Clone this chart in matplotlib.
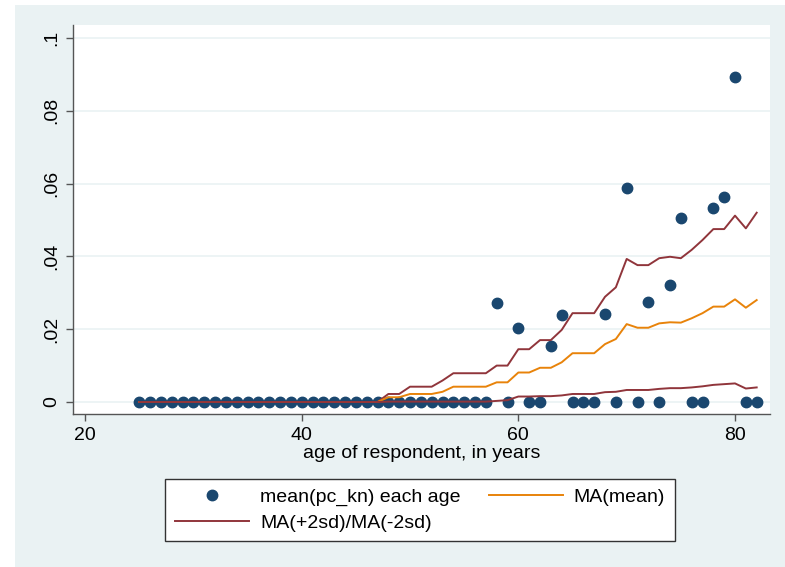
import numpy as np
import matplotlib.pyplot as plt
from matplotlib.patches import Rectangle

plt.rcParams['font.family'] = ['Liberation Sans', 'DejaVu Sans']

# datos
ages = np.arange(25, 83)
nonzero = {58: 0.0273, 60: 0.0204, 63: 0.0155, 64: 0.0239, 68: 0.0241,
           70: 0.0589, 72: 0.0276, 74: 0.0321, 75: 0.0505, 78: 0.0532,
           79: 0.0562, 80: 0.0893}
mean_pc = [nonzero.get(a, 0.0) for a in ages]

# medias moviles, edades 47..82 (antes todo cero)
ma_ages = np.arange(47, 83)
ma_up = [0.0, 0.0022, 0.0022, 0.0042, 0.0042, 0.0042, 0.0059, 0.0079, 0.0079,
         0.0079, 0.0079, 0.0100, 0.0100, 0.0145, 0.0145, 0.0170, 0.0170, 0.0198,
         0.0244, 0.0244, 0.0244, 0.0289, 0.0315, 0.0393, 0.0376, 0.0376, 0.0395,
         0.0399, 0.0395, 0.0418, 0.0445, 0.0475, 0.0475, 0.0512, 0.0477, 0.0520]
ma_mean = [0.0, 0.0013, 0.0013, 0.0022, 0.0022, 0.0022, 0.0028, 0.0042, 0.0042,
           0.0042, 0.0042, 0.0054, 0.0054, 0.0081, 0.0081, 0.0094, 0.0094, 0.0109,
           0.0134, 0.0134, 0.0134, 0.0159, 0.0173, 0.0214, 0.0204, 0.0204, 0.0216,
           0.0219, 0.0218, 0.0230, 0.0244, 0.0262, 0.0262, 0.0282, 0.0259, 0.0280]
ma_low = [0.0, 0.0001, 0.0001, 0.0001, 0.0001, 0.0001, 0.0001, 0.0001, 0.0001,
          0.0001, 0.0001, 0.0003, 0.0005, 0.0015, 0.0015, 0.0016, 0.0016, 0.0018,
          0.0022, 0.0022, 0.0022, 0.0027, 0.0028, 0.0033, 0.0033, 0.0033, 0.0036,
          0.0038, 0.0038, 0.0040, 0.0043, 0.0047, 0.0049, 0.0051, 0.0037, 0.0040]

pre = np.arange(25, 47)
line_x = np.concatenate([pre, ma_ages])
up_y = np.concatenate([np.zeros(len(pre)), ma_up])
mean_y = np.concatenate([np.zeros(len(pre)), ma_mean])
low_y = np.concatenate([np.zeros(len(pre)), ma_low])

navy = "#1a476f"
maroon = "#90353b"
orange = "#e8830a"
bg = "#eaf2f3"
fs = 14
lw = 1.4

fig = plt.figure(figsize=(7.85, 5.67), dpi=100, facecolor="white")
# fondo gris-azulado del grafico (margen blanco arriba e izquierda)
fig.patches.append(Rectangle((15/785, 0), 1 - 15/785, 1 - 5/567,
                             transform=fig.transFigure, facecolor=bg,
                             edgecolor="none", zorder=-5))

ax = fig.add_axes([73/785, 1 - 414/567, (770 - 73)/785, (414 - 25)/567])
ax.set_facecolor("white")

ax.plot(ages, mean_pc, "o", color=navy, ms=7.5, label="mean(pc_kn) each age", zorder=3)
ax.plot(line_x, up_y, color=maroon, lw=lw, label="MA(+2sd)/MA(-2sd)", zorder=4)
ax.plot(line_x, mean_y, color=orange, lw=lw, label="MA(mean)", zorder=4)
ax.plot(line_x, low_y, color=maroon, lw=lw, zorder=4)

ax.set_xlim(18.89, 83.23)
ax.set_ylim(-0.0033, 0.10357)
ax.set_xticks([20, 40, 60, 80])
ax.set_yticks([0, 0.02, 0.04, 0.06, 0.08, 0.1])
ax.set_yticklabels(["0", ".02", ".04", ".06", ".08", ".1"], rotation=90, va="center")
ax.grid(True, axis="y", color=bg, lw=1.2)
ax.set_axisbelow(True)

for s in ["top", "right"]:
    ax.spines[s].set_visible(False)
for s in ["left", "bottom"]:
    ax.spines[s].set_color("#555555")
    ax.spines[s].set_linewidth(1.0)
ax.tick_params(colors="#555555", labelcolor="black", labelsize=fs, length=5, width=1)
ax.tick_params(axis="y", pad=4)
ax.tick_params(axis="x", pad=4)

ax.set_xlabel("age of respondent, in years", fontsize=fs, labelpad=1)

h, l = ax.get_legend_handles_labels()
leg = fig.legend(h, l, ncol=2, loc="center", bbox_to_anchor=(420/785, 1 - 510/567),
                 fontsize=fs, frameon=True, fancybox=False, edgecolor="#333333",
                 framealpha=1, facecolor="white",
                 handlelength=3.8, handletextpad=0.57, columnspacing=1.45,
                 labelspacing=0.4, borderpad=0.5, numpoints=1)
leg.get_frame().set_linewidth(1.0)

fig.savefig("out.png", dpi=100, facecolor=fig.get_facecolor())
